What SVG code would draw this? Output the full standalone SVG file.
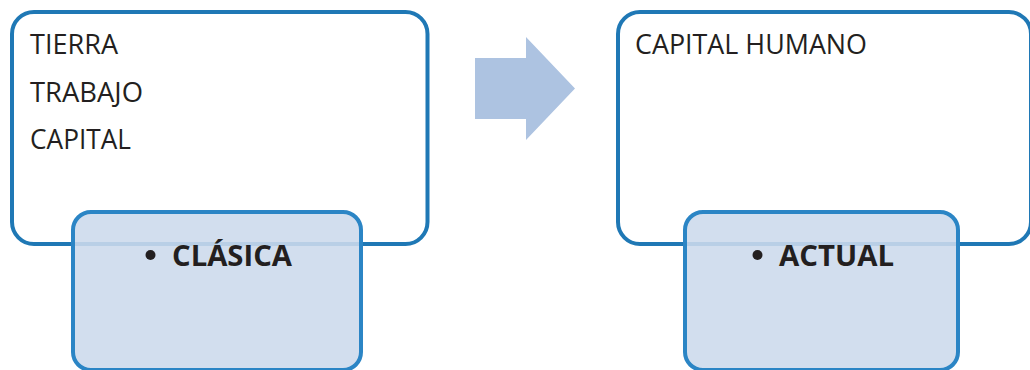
<svg xmlns="http://www.w3.org/2000/svg" width="1030" height="370" viewBox="0 0 1030 370">
  <style>
    .outer { fill: #ffffff; stroke: #1f78b5; stroke-width: 4; }
    .tab { fill: #ccdaec; fill-opacity: 0.89; stroke: #2b85c5; stroke-width: 4; }
    .item { font-family: "Open Sans", "Liberation Sans", sans-serif; font-size: 27px; fill: #231f20; }
    .title { font-family: "Open Sans", "Liberation Sans", sans-serif; font-size: 28px; font-weight: bold; fill: #231f20; }
    .arrow { fill: #adc3e1; }
  </style>
  <rect width="1030" height="370" fill="#ffffff"/>

  <g id="connectors">
    <polygon class="arrow" points="475,58 526,58 526,37 575,88.5 526,140 526,119 475,119"/>
  </g>

  <g id="clasica">
    <rect class="outer" x="12" y="12" width="415.5" height="232" rx="22"/>
    <text class="item" x="30" y="54" textLength="88" lengthAdjust="spacingAndGlyphs">TIERRA</text>
    <text class="item" x="30" y="101.5" textLength="113" lengthAdjust="spacingAndGlyphs">TRABAJO</text>
    <text class="item" x="30" y="149" textLength="101" lengthAdjust="spacingAndGlyphs">CAPITAL</text>
    <rect class="tab" x="73" y="212" width="288" height="158" rx="18"/>
    <circle cx="150.5" cy="255" r="5" fill="#231f20"/>
    <text class="title" x="172" y="265.5" textLength="120" lengthAdjust="spacingAndGlyphs">CLÁSICA</text>
  </g>

  <g id="actual">
    <rect class="outer" x="618" y="12" width="413" height="232" rx="22"/>
    <text class="item" x="635" y="54" textLength="232" lengthAdjust="spacingAndGlyphs">CAPITAL HUMANO</text>
    <rect class="tab" x="685" y="212" width="273" height="158" rx="18"/>
    <circle cx="757.5" cy="255" r="5" fill="#231f20"/>
    <text class="title" x="779" y="265.5" textLength="115" lengthAdjust="spacingAndGlyphs">ACTUAL</text>
  </g>
</svg>
